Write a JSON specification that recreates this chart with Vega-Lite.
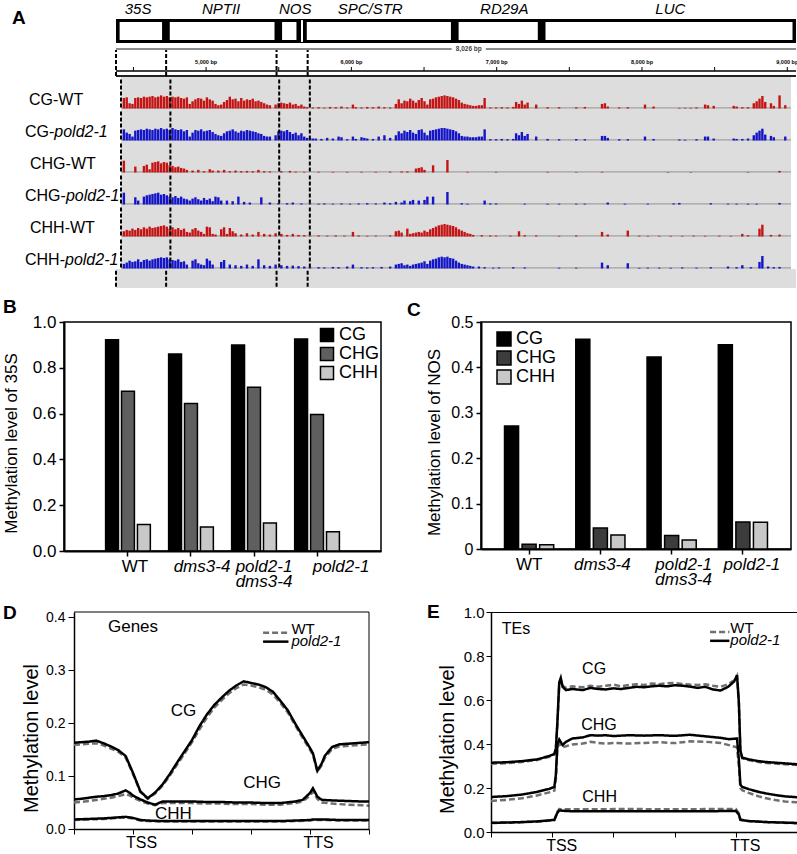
{
"$schema": "https://vega.github.io/schema/vega-lite/v6.json",
"padding": {"left": 0, "top": 2, "right": 0, "bottom": 0},
"background": "white",
"spacing": 0,
"columns": 1,
"align": "none",
"config": {
  "font": "Liberation Sans",
  "view": {"stroke": null},
  "axis": {"grid": false, "labelColor": "black", "titleColor": "black", "tickColor": "black", "domainColor": "black", "titleFontWeight": "normal", "labelFont": "Liberation Sans", "titleFont": "Liberation Sans"},
  "legend": {"labelColor": "black", "labelFont": "Liberation Sans"},
  "title": {"fontSize": 19, "fontWeight": "bold", "anchor": "start", "frame": "group", "color": "black", "baseline": "alphabetic", "font": "Liberation Sans"},
  "text": {"font": "Liberation Sans", "color": "black"}
},
"datasets": {
  "genes": [
    {"g":"35S","s":4405,"e":4697,"m":4532},
    {"g":"NPTII","s":4750,"e":5471,"m":5103},
    {"g":"NOS","s":5523,"e":5622,"m":5613},
    {"g":"SPC/STR","s":5693,"e":6685,"m":6129},
    {"g":"RD29A","s":6738,"e":7283,"m":7052},
    {"g":"LUC","s":7336,"e":9036,"m":8195}
  ],
  "dash": [{"d":4380},{"d":4725},{"d":5485},{"d":5699}],
  "rlab": [{"p":5000,"l":"5,000 bp"},{"p":6000,"l":"6,000 bp"},{"p":7000,"l":"7,000 bp"},{"p":8000,"l":"8,000 bp"},{"p":9000,"l":"9,000 bp"}],
  "rtick": [{"p":4500},{"p":5000},{"p":5500},{"p":6000},{"p":6500},{"p":7000},{"p":7500},{"p":8000},{"p":8500},{"p":9000}],
  "tr": [
{"t":"CGW","p":4400,"v":0.8},{"t":"CGW","p":4420,"v":0.85},{"t":"CGW","p":4440,"v":0.4},{"t":"CGW","p":4460,"v":0.35},{"t":"CGW","p":4480,"v":0.8},{"t":"CGW","p":4500,"v":0.85},{"t":"CGW","p":4520,"v":0.8},{"t":"CGW","p":4540,"v":0.9},{"t":"CGW","p":4560,"v":0.85},{"t":"CGW","p":4580,"v":0.9},{"t":"CGW","p":4600,"v":0.95},{"t":"CGW","p":4620,"v":0.85},{"t":"CGW","p":4640,"v":0.9},{"t":"CGW","p":4660,"v":1.0},{"t":"CGW","p":4680,"v":0.9},{"t":"CGW","p":4700,"v":0.95},{"t":"CGW","p":4720,"v":0.85},{"t":"CGW","p":4740,"v":0.9},{"t":"CGW","p":4760,"v":0.85},{"t":"CGW","p":4780,"v":0.9},{"t":"CGW","p":4800,"v":0.8},{"t":"CGW","p":4820,"v":0.75},{"t":"CGW","p":4840,"v":0.85},{"t":"CGW","p":4860,"v":0.35},{"t":"CGW","p":4880,"v":0.55},{"t":"CGW","p":4900,"v":0.7},{"t":"CGW","p":4920,"v":0.8},{"t":"CGW","p":4940,"v":0.75},{"t":"CGW","p":4960,"v":0.6},{"t":"CGW","p":4980,"v":0.85},{"t":"CGW","p":5000,"v":0.7},{"t":"CGW","p":5020,"v":0.6},{"t":"CGW","p":5040,"v":0.35},{"t":"CGW","p":5060,"v":0.25},{"t":"CGW","p":5080,"v":0.3},{"t":"CGW","p":5100,"v":0.5},{"t":"CGW","p":5120,"v":0.65},{"t":"CGW","p":5140,"v":0.9},{"t":"CGW","p":5160,"v":0.7},{"t":"CGW","p":5180,"v":0.75},{"t":"CGW","p":5200,"v":0.55},{"t":"CGW","p":5220,"v":0.8},{"t":"CGW","p":5240,"v":0.6},{"t":"CGW","p":5260,"v":0.7},{"t":"CGW","p":5280,"v":0.65},{"t":"CGW","p":5300,"v":0.75},{"t":"CGW","p":5320,"v":0.55},{"t":"CGW","p":5340,"v":0.6},{"t":"CGW","p":5360,"v":0.5},{"t":"CGW","p":5380,"v":0.4},{"t":"CGW","p":5400,"v":0.3},{"t":"CGW","p":5420,"v":0.25},{"t":"CGW","p":5460,"v":0.3},{"t":"CGW","p":5480,"v":0.4},{"t":"CGW","p":5500,"v":0.45},{"t":"CGW","p":5520,"v":0.4},{"t":"CGW","p":5540,"v":0.35},{"t":"CGW","p":5560,"v":0.45},{"t":"CGW","p":5580,"v":0.3},{"t":"CGW","p":5600,"v":0.35},{"t":"CGW","p":5620,"v":0.2},{"t":"CGW","p":5640,"v":0.3},{"t":"CGW","p":5660,"v":0.15},{"t":"CGW","p":5680,"v":0.1},{"t":"CGW","p":5720,"v":0.08},{"t":"CGW","p":5760,"v":0.1},{"t":"CGW","p":5800,"v":0.06},{"t":"CGW","p":5840,"v":0.12},{"t":"CGW","p":5880,"v":0.1},{"t":"CGW","p":5920,"v":0.15},{"t":"CGW","p":5960,"v":0.08},{"t":"CGW","p":6000,"v":0.3},{"t":"CGW","p":6020,"v":0.1},{"t":"CGW","p":6060,"v":0.08},{"t":"CGW","p":6100,"v":0.12},{"t":"CGW","p":6140,"v":0.1},{"t":"CGW","p":6180,"v":0.15},{"t":"CGW","p":6220,"v":0.1},{"t":"CGW","p":6260,"v":0.08},{"t":"CGW","p":6300,"v":0.35},{"t":"CGW","p":6320,"v":0.7},{"t":"CGW","p":6340,"v":0.4},{"t":"CGW","p":6360,"v":0.6},{"t":"CGW","p":6380,"v":0.55},{"t":"CGW","p":6400,"v":0.75},{"t":"CGW","p":6420,"v":0.6},{"t":"CGW","p":6440,"v":0.45},{"t":"CGW","p":6460,"v":0.65},{"t":"CGW","p":6480,"v":0.8},{"t":"CGW","p":6500,"v":0.55},{"t":"CGW","p":6520,"v":0.3},{"t":"CGW","p":6540,"v":0.7},{"t":"CGW","p":6560,"v":0.75},{"t":"CGW","p":6580,"v":0.85},{"t":"CGW","p":6600,"v":0.9},{"t":"CGW","p":6620,"v":0.95},{"t":"CGW","p":6640,"v":1.0},{"t":"CGW","p":6660,"v":0.95},{"t":"CGW","p":6680,"v":0.9},{"t":"CGW","p":6700,"v":0.85},{"t":"CGW","p":6720,"v":0.75},{"t":"CGW","p":6740,"v":0.65},{"t":"CGW","p":6760,"v":0.45},{"t":"CGW","p":6780,"v":0.35},{"t":"CGW","p":6800,"v":0.3},{"t":"CGW","p":6820,"v":0.25},{"t":"CGW","p":6840,"v":0.2},{"t":"CGW","p":6860,"v":0.2},{"t":"CGW","p":6880,"v":0.25},{"t":"CGW","p":6900,"v":0.25},{"t":"CGW","p":6920,"v":0.8},{"t":"CGW","p":6960,"v":0.08},{"t":"CGW","p":7000,"v":0.08},{"t":"CGW","p":7040,"v":0.1},{"t":"CGW","p":7080,"v":0.08},{"t":"CGW","p":7120,"v":0.12},{"t":"CGW","p":7140,"v":0.5},{"t":"CGW","p":7160,"v":0.35},{"t":"CGW","p":7180,"v":0.6},{"t":"CGW","p":7200,"v":0.3},{"t":"CGW","p":7220,"v":0.45},{"t":"CGW","p":7280,"v":0.3},{"t":"CGW","p":7360,"v":0.1},{"t":"CGW","p":7440,"v":0.1},{"t":"CGW","p":7560,"v":0.1},{"t":"CGW","p":7620,"v":0.12},{"t":"CGW","p":7740,"v":0.35},{"t":"CGW","p":7760,"v":0.4},{"t":"CGW","p":7780,"v":0.15},{"t":"CGW","p":7860,"v":0.08},{"t":"CGW","p":7920,"v":0.1},{"t":"CGW","p":8040,"v":0.3},{"t":"CGW","p":8100,"v":0.15},{"t":"CGW","p":8280,"v":0.05},{"t":"CGW","p":8320,"v":0.05},{"t":"CGW","p":8360,"v":0.05},{"t":"CGW","p":8400,"v":0.08},{"t":"CGW","p":8460,"v":0.3},{"t":"CGW","p":8480,"v":0.25},{"t":"CGW","p":8520,"v":0.2},{"t":"CGW","p":8660,"v":0.2},{"t":"CGW","p":8680,"v":0.15},{"t":"CGW","p":8720,"v":0.1},{"t":"CGW","p":8760,"v":0.1},{"t":"CGW","p":8800,"v":0.4},{"t":"CGW","p":8820,"v":0.55},{"t":"CGW","p":8840,"v":0.75},{"t":"CGW","p":8860,"v":0.95},{"t":"CGW","p":8880,"v":0.5},{"t":"CGW","p":8920,"v":0.4},{"t":"CGW","p":8940,"v":0.2},{"t":"CGW","p":8980,"v":1.0},{"t":"CGW","p":9020,"v":0.25},
{"t":"CGP","p":4400,"v":0.85},{"t":"CGP","p":4420,"v":0.6},{"t":"CGP","p":4440,"v":0.5},{"t":"CGP","p":4460,"v":0.3},{"t":"CGP","p":4480,"v":0.75},{"t":"CGP","p":4500,"v":0.8},{"t":"CGP","p":4520,"v":0.85},{"t":"CGP","p":4540,"v":0.8},{"t":"CGP","p":4560,"v":0.9},{"t":"CGP","p":4580,"v":0.85},{"t":"CGP","p":4600,"v":0.8},{"t":"CGP","p":4620,"v":0.9},{"t":"CGP","p":4640,"v":0.85},{"t":"CGP","p":4660,"v":0.95},{"t":"CGP","p":4680,"v":0.85},{"t":"CGP","p":4700,"v":0.9},{"t":"CGP","p":4720,"v":0.8},{"t":"CGP","p":4740,"v":0.95},{"t":"CGP","p":4760,"v":0.85},{"t":"CGP","p":4780,"v":0.8},{"t":"CGP","p":4800,"v":0.85},{"t":"CGP","p":4820,"v":0.7},{"t":"CGP","p":4840,"v":0.8},{"t":"CGP","p":4860,"v":0.3},{"t":"CGP","p":4880,"v":0.6},{"t":"CGP","p":4900,"v":0.8},{"t":"CGP","p":4920,"v":0.75},{"t":"CGP","p":4940,"v":0.85},{"t":"CGP","p":4960,"v":0.7},{"t":"CGP","p":4980,"v":0.75},{"t":"CGP","p":5000,"v":0.8},{"t":"CGP","p":5020,"v":0.65},{"t":"CGP","p":5040,"v":0.5},{"t":"CGP","p":5060,"v":0.4},{"t":"CGP","p":5080,"v":0.35},{"t":"CGP","p":5100,"v":0.55},{"t":"CGP","p":5120,"v":0.7},{"t":"CGP","p":5140,"v":0.75},{"t":"CGP","p":5160,"v":0.85},{"t":"CGP","p":5180,"v":0.7},{"t":"CGP","p":5200,"v":0.6},{"t":"CGP","p":5220,"v":0.75},{"t":"CGP","p":5240,"v":0.7},{"t":"CGP","p":5260,"v":0.8},{"t":"CGP","p":5280,"v":0.75},{"t":"CGP","p":5300,"v":0.7},{"t":"CGP","p":5320,"v":0.65},{"t":"CGP","p":5340,"v":0.55},{"t":"CGP","p":5360,"v":0.5},{"t":"CGP","p":5380,"v":0.35},{"t":"CGP","p":5400,"v":0.3},{"t":"CGP","p":5420,"v":0.3},{"t":"CGP","p":5460,"v":0.4},{"t":"CGP","p":5480,"v":0.7},{"t":"CGP","p":5500,"v":0.75},{"t":"CGP","p":5520,"v":0.7},{"t":"CGP","p":5540,"v":0.8},{"t":"CGP","p":5560,"v":0.65},{"t":"CGP","p":5580,"v":0.5},{"t":"CGP","p":5600,"v":0.6},{"t":"CGP","p":5620,"v":0.4},{"t":"CGP","p":5640,"v":0.55},{"t":"CGP","p":5660,"v":0.3},{"t":"CGP","p":5680,"v":0.2},{"t":"CGP","p":5700,"v":0.2},{"t":"CGP","p":5720,"v":0.15},{"t":"CGP","p":5740,"v":0.15},{"t":"CGP","p":5780,"v":0.12},{"t":"CGP","p":5820,"v":0.2},{"t":"CGP","p":5860,"v":0.15},{"t":"CGP","p":5900,"v":0.3},{"t":"CGP","p":5920,"v":0.25},{"t":"CGP","p":5960,"v":0.1},{"t":"CGP","p":6000,"v":0.3},{"t":"CGP","p":6020,"v":0.12},{"t":"CGP","p":6060,"v":0.25},{"t":"CGP","p":6080,"v":0.2},{"t":"CGP","p":6100,"v":0.15},{"t":"CGP","p":6140,"v":0.12},{"t":"CGP","p":6180,"v":0.3},{"t":"CGP","p":6220,"v":0.4},{"t":"CGP","p":6260,"v":0.2},{"t":"CGP","p":6300,"v":0.4},{"t":"CGP","p":6320,"v":0.7},{"t":"CGP","p":6340,"v":0.55},{"t":"CGP","p":6360,"v":0.75},{"t":"CGP","p":6380,"v":0.65},{"t":"CGP","p":6400,"v":0.8},{"t":"CGP","p":6420,"v":0.6},{"t":"CGP","p":6440,"v":0.5},{"t":"CGP","p":6460,"v":0.8},{"t":"CGP","p":6480,"v":0.85},{"t":"CGP","p":6500,"v":0.6},{"t":"CGP","p":6520,"v":0.4},{"t":"CGP","p":6540,"v":0.75},{"t":"CGP","p":6560,"v":0.8},{"t":"CGP","p":6580,"v":0.85},{"t":"CGP","p":6600,"v":0.9},{"t":"CGP","p":6620,"v":0.95},{"t":"CGP","p":6640,"v":0.95},{"t":"CGP","p":6660,"v":0.9},{"t":"CGP","p":6680,"v":0.85},{"t":"CGP","p":6700,"v":0.8},{"t":"CGP","p":6720,"v":0.7},{"t":"CGP","p":6740,"v":0.55},{"t":"CGP","p":6760,"v":0.35},{"t":"CGP","p":6780,"v":0.3},{"t":"CGP","p":6800,"v":0.3},{"t":"CGP","p":6820,"v":0.25},{"t":"CGP","p":6840,"v":0.25},{"t":"CGP","p":6860,"v":0.25},{"t":"CGP","p":6880,"v":0.3},{"t":"CGP","p":6900,"v":0.3},{"t":"CGP","p":6920,"v":0.85},{"t":"CGP","p":6960,"v":0.1},{"t":"CGP","p":7000,"v":0.1},{"t":"CGP","p":7040,"v":0.12},{"t":"CGP","p":7080,"v":0.1},{"t":"CGP","p":7120,"v":0.12},{"t":"CGP","p":7140,"v":0.55},{"t":"CGP","p":7160,"v":0.4},{"t":"CGP","p":7180,"v":0.65},{"t":"CGP","p":7200,"v":0.35},{"t":"CGP","p":7220,"v":0.5},{"t":"CGP","p":7280,"v":0.3},{"t":"CGP","p":7360,"v":0.12},{"t":"CGP","p":7440,"v":0.1},{"t":"CGP","p":7560,"v":0.12},{"t":"CGP","p":7620,"v":0.1},{"t":"CGP","p":7740,"v":0.35},{"t":"CGP","p":7760,"v":0.35},{"t":"CGP","p":7780,"v":0.2},{"t":"CGP","p":7860,"v":0.1},{"t":"CGP","p":7920,"v":0.1},{"t":"CGP","p":8040,"v":0.3},{"t":"CGP","p":8100,"v":0.12},{"t":"CGP","p":8280,"v":0.08},{"t":"CGP","p":8320,"v":0.06},{"t":"CGP","p":8400,"v":0.1},{"t":"CGP","p":8460,"v":0.3},{"t":"CGP","p":8480,"v":0.3},{"t":"CGP","p":8520,"v":0.15},{"t":"CGP","p":8660,"v":0.15},{"t":"CGP","p":8680,"v":0.12},{"t":"CGP","p":8720,"v":0.12},{"t":"CGP","p":8760,"v":0.15},{"t":"CGP","p":8800,"v":0.4},{"t":"CGP","p":8820,"v":0.6},{"t":"CGP","p":8840,"v":0.75},{"t":"CGP","p":8860,"v":0.9},{"t":"CGP","p":8880,"v":0.45},{"t":"CGP","p":8920,"v":0.35},{"t":"CGP","p":8940,"v":0.25},{"t":"CGP","p":9020,"v":0.3},
{"t":"CHGW","p":4400,"v":0.9},{"t":"CHGW","p":4480,"v":0.45},{"t":"CHGW","p":4540,"v":0.5},{"t":"CHGW","p":4560,"v":0.6},{"t":"CHGW","p":4580,"v":0.25},{"t":"CHGW","p":4600,"v":0.75},{"t":"CHGW","p":4620,"v":0.8},{"t":"CHGW","p":4640,"v":0.85},{"t":"CHGW","p":4660,"v":0.7},{"t":"CHGW","p":4680,"v":0.8},{"t":"CHGW","p":4700,"v":0.75},{"t":"CHGW","p":4720,"v":0.55},{"t":"CHGW","p":4740,"v":0.5},{"t":"CHGW","p":4760,"v":0.4},{"t":"CHGW","p":4780,"v":0.45},{"t":"CHGW","p":4800,"v":0.35},{"t":"CHGW","p":4820,"v":0.3},{"t":"CHGW","p":4840,"v":0.2},{"t":"CHGW","p":4880,"v":0.15},{"t":"CHGW","p":4920,"v":0.2},{"t":"CHGW","p":4960,"v":0.1},{"t":"CHGW","p":5000,"v":0.25},{"t":"CHGW","p":5020,"v":0.15},{"t":"CHGW","p":5060,"v":0.15},{"t":"CHGW","p":5100,"v":0.2},{"t":"CHGW","p":5140,"v":0.1},{"t":"CHGW","p":5180,"v":0.15},{"t":"CHGW","p":5220,"v":0.1},{"t":"CHGW","p":5260,"v":0.12},{"t":"CHGW","p":5300,"v":0.1},{"t":"CHGW","p":5340,"v":0.2},{"t":"CHGW","p":5380,"v":0.1},{"t":"CHGW","p":5420,"v":0.08},{"t":"CHGW","p":5500,"v":0.1},{"t":"CHGW","p":5560,"v":0.12},{"t":"CHGW","p":5600,"v":0.06},{"t":"CHGW","p":5660,"v":0.05},{"t":"CHGW","p":5760,"v":0.05},{"t":"CHGW","p":5860,"v":0.05},{"t":"CHGW","p":5960,"v":0.05},{"t":"CHGW","p":6060,"v":0.05},{"t":"CHGW","p":6160,"v":0.05},{"t":"CHGW","p":6260,"v":0.06},{"t":"CHGW","p":6340,"v":0.08},{"t":"CHGW","p":6380,"v":0.08},{"t":"CHGW","p":6440,"v":0.3},{"t":"CHGW","p":6460,"v":0.35},{"t":"CHGW","p":6480,"v":0.4},{"t":"CHGW","p":6500,"v":0.2},{"t":"CHGW","p":6560,"v":0.55},{"t":"CHGW","p":6660,"v":0.95},{"t":"CHGW","p":6800,"v":0.05},{"t":"CHGW","p":7000,"v":0.05},{"t":"CHGW","p":7360,"v":0.05},{"t":"CHGW","p":7560,"v":0.04},{"t":"CHGW","p":7740,"v":0.05},{"t":"CHGW","p":8200,"v":0.04},{"t":"CHGW","p":8360,"v":0.04},{"t":"CHGW","p":8760,"v":0.04},{"t":"CHGW","p":8980,"v":0.12},
{"t":"CHGP","p":4400,"v":0.9},{"t":"CHGP","p":4480,"v":0.55},{"t":"CHGP","p":4500,"v":0.3},{"t":"CHGP","p":4540,"v":0.6},{"t":"CHGP","p":4560,"v":0.7},{"t":"CHGP","p":4580,"v":0.75},{"t":"CHGP","p":4600,"v":0.8},{"t":"CHGP","p":4620,"v":0.85},{"t":"CHGP","p":4640,"v":0.9},{"t":"CHGP","p":4660,"v":0.75},{"t":"CHGP","p":4680,"v":0.8},{"t":"CHGP","p":4700,"v":0.7},{"t":"CHGP","p":4720,"v":0.6},{"t":"CHGP","p":4740,"v":0.55},{"t":"CHGP","p":4760,"v":0.65},{"t":"CHGP","p":4780,"v":0.5},{"t":"CHGP","p":4800,"v":0.6},{"t":"CHGP","p":4820,"v":0.45},{"t":"CHGP","p":4840,"v":0.4},{"t":"CHGP","p":4860,"v":0.3},{"t":"CHGP","p":4880,"v":0.45},{"t":"CHGP","p":4900,"v":0.55},{"t":"CHGP","p":4920,"v":0.4},{"t":"CHGP","p":4940,"v":0.3},{"t":"CHGP","p":4960,"v":0.5},{"t":"CHGP","p":4980,"v":0.35},{"t":"CHGP","p":5000,"v":0.45},{"t":"CHGP","p":5020,"v":0.25},{"t":"CHGP","p":5040,"v":0.6},{"t":"CHGP","p":5060,"v":0.55},{"t":"CHGP","p":5080,"v":0.3},{"t":"CHGP","p":5120,"v":0.3},{"t":"CHGP","p":5160,"v":0.25},{"t":"CHGP","p":5200,"v":0.6},{"t":"CHGP","p":5240,"v":0.2},{"t":"CHGP","p":5280,"v":0.15},{"t":"CHGP","p":5360,"v":0.55},{"t":"CHGP","p":5420,"v":0.15},{"t":"CHGP","p":5480,"v":0.1},{"t":"CHGP","p":5540,"v":0.1},{"t":"CHGP","p":5580,"v":0.15},{"t":"CHGP","p":5640,"v":0.08},{"t":"CHGP","p":5700,"v":0.08},{"t":"CHGP","p":5760,"v":0.06},{"t":"CHGP","p":5800,"v":0.08},{"t":"CHGP","p":5860,"v":0.06},{"t":"CHGP","p":5920,"v":0.08},{"t":"CHGP","p":5980,"v":0.06},{"t":"CHGP","p":6040,"v":0.08},{"t":"CHGP","p":6100,"v":0.1},{"t":"CHGP","p":6160,"v":0.08},{"t":"CHGP","p":6220,"v":0.15},{"t":"CHGP","p":6260,"v":0.1},{"t":"CHGP","p":6300,"v":0.2},{"t":"CHGP","p":6340,"v":0.15},{"t":"CHGP","p":6360,"v":0.3},{"t":"CHGP","p":6400,"v":0.25},{"t":"CHGP","p":6420,"v":0.35},{"t":"CHGP","p":6460,"v":0.3},{"t":"CHGP","p":6500,"v":0.35},{"t":"CHGP","p":6520,"v":0.6},{"t":"CHGP","p":6560,"v":0.6},{"t":"CHGP","p":6660,"v":0.95},{"t":"CHGP","p":6760,"v":0.1},{"t":"CHGP","p":6800,"v":0.06},{"t":"CHGP","p":6920,"v":0.3},{"t":"CHGP","p":6960,"v":0.08},{"t":"CHGP","p":7000,"v":0.08},{"t":"CHGP","p":7200,"v":0.06},{"t":"CHGP","p":7360,"v":0.06},{"t":"CHGP","p":7440,"v":0.06},{"t":"CHGP","p":7560,"v":0.06},{"t":"CHGP","p":7620,"v":0.06},{"t":"CHGP","p":7780,"v":0.15},{"t":"CHGP","p":7900,"v":0.06},{"t":"CHGP","p":8060,"v":0.06},{"t":"CHGP","p":8240,"v":0.08},{"t":"CHGP","p":8280,"v":0.12},{"t":"CHGP","p":8500,"v":0.1},{"t":"CHGP","p":8620,"v":0.06},{"t":"CHGP","p":8680,"v":0.06},{"t":"CHGP","p":8760,"v":0.06},{"t":"CHGP","p":8820,"v":0.06},{"t":"CHGP","p":8980,"v":0.12},
{"t":"CHHW","p":4400,"v":0.4},{"t":"CHHW","p":4420,"v":0.5},{"t":"CHHW","p":4440,"v":0.45},{"t":"CHHW","p":4460,"v":0.6},{"t":"CHHW","p":4480,"v":0.5},{"t":"CHHW","p":4500,"v":0.65},{"t":"CHHW","p":4520,"v":0.55},{"t":"CHHW","p":4540,"v":0.7},{"t":"CHHW","p":4560,"v":0.6},{"t":"CHHW","p":4580,"v":0.75},{"t":"CHHW","p":4600,"v":0.65},{"t":"CHHW","p":4620,"v":0.7},{"t":"CHHW","p":4640,"v":0.75},{"t":"CHHW","p":4660,"v":0.8},{"t":"CHHW","p":4680,"v":0.85},{"t":"CHHW","p":4700,"v":0.75},{"t":"CHHW","p":4720,"v":0.6},{"t":"CHHW","p":4740,"v":0.7},{"t":"CHHW","p":4760,"v":0.55},{"t":"CHHW","p":4780,"v":0.65},{"t":"CHHW","p":4800,"v":0.5},{"t":"CHHW","p":4820,"v":0.6},{"t":"CHHW","p":4840,"v":0.35},{"t":"CHHW","p":4860,"v":0.3},{"t":"CHHW","p":4880,"v":0.55},{"t":"CHHW","p":4900,"v":0.65},{"t":"CHHW","p":4920,"v":0.45},{"t":"CHHW","p":4940,"v":0.35},{"t":"CHHW","p":4960,"v":0.2},{"t":"CHHW","p":4980,"v":0.75},{"t":"CHHW","p":5000,"v":0.7},{"t":"CHHW","p":5020,"v":0.2},{"t":"CHHW","p":5040,"v":0.15},{"t":"CHHW","p":5080,"v":0.55},{"t":"CHHW","p":5100,"v":0.7},{"t":"CHHW","p":5120,"v":0.2},{"t":"CHHW","p":5140,"v":0.65},{"t":"CHHW","p":5160,"v":0.4},{"t":"CHHW","p":5180,"v":0.25},{"t":"CHHW","p":5220,"v":0.15},{"t":"CHHW","p":5260,"v":0.25},{"t":"CHHW","p":5300,"v":0.15},{"t":"CHHW","p":5340,"v":0.35},{"t":"CHHW","p":5380,"v":0.2},{"t":"CHHW","p":5420,"v":0.15},{"t":"CHHW","p":5460,"v":0.25},{"t":"CHHW","p":5500,"v":0.2},{"t":"CHHW","p":5540,"v":0.12},{"t":"CHHW","p":5580,"v":0.2},{"t":"CHHW","p":5620,"v":0.12},{"t":"CHHW","p":5660,"v":0.1},{"t":"CHHW","p":5700,"v":0.06},{"t":"CHHW","p":5760,"v":0.08},{"t":"CHHW","p":5820,"v":0.06},{"t":"CHHW","p":5880,"v":0.08},{"t":"CHHW","p":5940,"v":0.06},{"t":"CHHW","p":6000,"v":0.35},{"t":"CHHW","p":6040,"v":0.08},{"t":"CHHW","p":6100,"v":0.05},{"t":"CHHW","p":6160,"v":0.06},{"t":"CHHW","p":6260,"v":0.08},{"t":"CHHW","p":6300,"v":0.4},{"t":"CHHW","p":6320,"v":0.45},{"t":"CHHW","p":6340,"v":0.3},{"t":"CHHW","p":6380,"v":0.6},{"t":"CHHW","p":6400,"v":0.2},{"t":"CHHW","p":6420,"v":0.25},{"t":"CHHW","p":6440,"v":0.3},{"t":"CHHW","p":6460,"v":0.35},{"t":"CHHW","p":6480,"v":0.3},{"t":"CHHW","p":6500,"v":0.45},{"t":"CHHW","p":6520,"v":0.35},{"t":"CHHW","p":6540,"v":0.55},{"t":"CHHW","p":6560,"v":0.65},{"t":"CHHW","p":6580,"v":0.75},{"t":"CHHW","p":6600,"v":0.85},{"t":"CHHW","p":6620,"v":0.9},{"t":"CHHW","p":6640,"v":0.95},{"t":"CHHW","p":6660,"v":0.9},{"t":"CHHW","p":6680,"v":0.85},{"t":"CHHW","p":6700,"v":0.8},{"t":"CHHW","p":6720,"v":0.7},{"t":"CHHW","p":6740,"v":0.55},{"t":"CHHW","p":6760,"v":0.45},{"t":"CHHW","p":6780,"v":0.35},{"t":"CHHW","p":6800,"v":0.25},{"t":"CHHW","p":6820,"v":0.2},{"t":"CHHW","p":6840,"v":0.12},{"t":"CHHW","p":6900,"v":0.1},{"t":"CHHW","p":6960,"v":0.08},{"t":"CHHW","p":7000,"v":0.06},{"t":"CHHW","p":7100,"v":0.06},{"t":"CHHW","p":7160,"v":0.4},{"t":"CHHW","p":7200,"v":0.1},{"t":"CHHW","p":7280,"v":0.08},{"t":"CHHW","p":7440,"v":0.05},{"t":"CHHW","p":7560,"v":0.08},{"t":"CHHW","p":7740,"v":0.35},{"t":"CHHW","p":7780,"v":0.15},{"t":"CHHW","p":7920,"v":0.45},{"t":"CHHW","p":8000,"v":0.06},{"t":"CHHW","p":8060,"v":0.05},{"t":"CHHW","p":8140,"v":0.05},{"t":"CHHW","p":8220,"v":0.05},{"t":"CHHW","p":8300,"v":0.05},{"t":"CHHW","p":8380,"v":0.06},{"t":"CHHW","p":8460,"v":0.05},{"t":"CHHW","p":8560,"v":0.06},{"t":"CHHW","p":8640,"v":0.05},{"t":"CHHW","p":8720,"v":0.2},{"t":"CHHW","p":8760,"v":0.1},{"t":"CHHW","p":8840,"v":0.6},{"t":"CHHW","p":8860,"v":0.9},{"t":"CHHW","p":8920,"v":0.12},{"t":"CHHW","p":8980,"v":0.15},
{"t":"CHHP","p":4400,"v":0.35},{"t":"CHHP","p":4420,"v":0.45},{"t":"CHHP","p":4440,"v":0.6},{"t":"CHHP","p":4460,"v":0.5},{"t":"CHHP","p":4480,"v":0.55},{"t":"CHHP","p":4500,"v":0.7},{"t":"CHHP","p":4520,"v":0.5},{"t":"CHHP","p":4540,"v":0.65},{"t":"CHHP","p":4560,"v":0.7},{"t":"CHHP","p":4580,"v":0.6},{"t":"CHHP","p":4600,"v":0.7},{"t":"CHHP","p":4620,"v":0.75},{"t":"CHHP","p":4640,"v":0.8},{"t":"CHHP","p":4660,"v":0.85},{"t":"CHHP","p":4680,"v":0.8},{"t":"CHHP","p":4700,"v":0.85},{"t":"CHHP","p":4720,"v":0.7},{"t":"CHHP","p":4740,"v":0.65},{"t":"CHHP","p":4760,"v":0.6},{"t":"CHHP","p":4780,"v":0.7},{"t":"CHHP","p":4800,"v":0.5},{"t":"CHHP","p":4820,"v":0.55},{"t":"CHHP","p":4840,"v":0.3},{"t":"CHHP","p":4880,"v":0.6},{"t":"CHHP","p":4900,"v":0.7},{"t":"CHHP","p":4920,"v":0.4},{"t":"CHHP","p":4940,"v":0.3},{"t":"CHHP","p":4960,"v":0.25},{"t":"CHHP","p":4980,"v":0.75},{"t":"CHHP","p":5000,"v":0.6},{"t":"CHHP","p":5020,"v":0.3},{"t":"CHHP","p":5080,"v":0.5},{"t":"CHHP","p":5100,"v":0.65},{"t":"CHHP","p":5140,"v":0.3},{"t":"CHHP","p":5180,"v":0.25},{"t":"CHHP","p":5220,"v":0.2},{"t":"CHHP","p":5260,"v":0.3},{"t":"CHHP","p":5300,"v":0.2},{"t":"CHHP","p":5340,"v":0.7},{"t":"CHHP","p":5380,"v":0.25},{"t":"CHHP","p":5420,"v":0.2},{"t":"CHHP","p":5460,"v":0.3},{"t":"CHHP","p":5500,"v":0.25},{"t":"CHHP","p":5540,"v":0.2},{"t":"CHHP","p":5580,"v":0.22},{"t":"CHHP","p":5620,"v":0.18},{"t":"CHHP","p":5660,"v":0.15},{"t":"CHHP","p":5700,"v":0.1},{"t":"CHHP","p":5760,"v":0.1},{"t":"CHHP","p":5800,"v":0.08},{"t":"CHHP","p":5860,"v":0.12},{"t":"CHHP","p":5900,"v":0.1},{"t":"CHHP","p":5960,"v":0.15},{"t":"CHHP","p":6000,"v":0.3},{"t":"CHHP","p":6060,"v":0.1},{"t":"CHHP","p":6100,"v":0.08},{"t":"CHHP","p":6140,"v":0.1},{"t":"CHHP","p":6200,"v":0.12},{"t":"CHHP","p":6260,"v":0.15},{"t":"CHHP","p":6300,"v":0.3},{"t":"CHHP","p":6320,"v":0.35},{"t":"CHHP","p":6340,"v":0.4},{"t":"CHHP","p":6360,"v":0.25},{"t":"CHHP","p":6380,"v":0.3},{"t":"CHHP","p":6400,"v":0.2},{"t":"CHHP","p":6420,"v":0.3},{"t":"CHHP","p":6440,"v":0.35},{"t":"CHHP","p":6460,"v":0.4},{"t":"CHHP","p":6480,"v":0.45},{"t":"CHHP","p":6500,"v":0.55},{"t":"CHHP","p":6520,"v":0.35},{"t":"CHHP","p":6540,"v":0.6},{"t":"CHHP","p":6560,"v":0.7},{"t":"CHHP","p":6580,"v":0.75},{"t":"CHHP","p":6600,"v":0.85},{"t":"CHHP","p":6620,"v":0.9},{"t":"CHHP","p":6640,"v":0.85},{"t":"CHHP","p":6660,"v":0.9},{"t":"CHHP","p":6680,"v":0.8},{"t":"CHHP","p":6700,"v":0.75},{"t":"CHHP","p":6720,"v":0.6},{"t":"CHHP","p":6740,"v":0.45},{"t":"CHHP","p":6760,"v":0.35},{"t":"CHHP","p":6780,"v":0.3},{"t":"CHHP","p":6800,"v":0.25},{"t":"CHHP","p":6820,"v":0.2},{"t":"CHHP","p":6840,"v":0.15},{"t":"CHHP","p":6880,"v":0.15},{"t":"CHHP","p":6920,"v":0.1},{"t":"CHHP","p":6980,"v":0.06},{"t":"CHHP","p":7020,"v":0.08},{"t":"CHHP","p":7120,"v":0.1},{"t":"CHHP","p":7200,"v":0.08},{"t":"CHHP","p":7440,"v":0.06},{"t":"CHHP","p":7560,"v":0.06},{"t":"CHHP","p":7740,"v":0.45},{"t":"CHHP","p":7780,"v":0.25},{"t":"CHHP","p":7920,"v":0.4},{"t":"CHHP","p":8000,"v":0.05},{"t":"CHHP","p":8060,"v":0.06},{"t":"CHHP","p":8140,"v":0.06},{"t":"CHHP","p":8220,"v":0.05},{"t":"CHHP","p":8300,"v":0.08},{"t":"CHHP","p":8400,"v":0.06},{"t":"CHHP","p":8500,"v":0.1},{"t":"CHHP","p":8620,"v":0.15},{"t":"CHHP","p":8680,"v":0.1},{"t":"CHHP","p":8720,"v":0.25},{"t":"CHHP","p":8780,"v":0.1},{"t":"CHHP","p":8840,"v":0.5},{"t":"CHHP","p":8860,"v":0.95},{"t":"CHHP","p":8900,"v":0.15},{"t":"CHHP","p":8940,"v":0.1},{"t":"CHHP","p":8980,"v":0.12}
  ],
  "b35s": [
    {"grp":"WT","ctx":"CG","val":0.923},{"grp":"WT","ctx":"CHG","val":0.698},{"grp":"WT","ctx":"CHH","val":0.116},
    {"grp":"dms3-4","ctx":"CG","val":0.86},{"grp":"dms3-4","ctx":"CHG","val":0.644},{"grp":"dms3-4","ctx":"CHH","val":0.105},
    {"grp":"pold2-1 dms3-4","ctx":"CG","val":0.9},{"grp":"pold2-1 dms3-4","ctx":"CHG","val":0.715},{"grp":"pold2-1 dms3-4","ctx":"CHH","val":0.122},
    {"grp":"pold2-1","ctx":"CG","val":0.926},{"grp":"pold2-1","ctx":"CHG","val":0.596},{"grp":"pold2-1","ctx":"CHH","val":0.084}
  ],
  "bnos": [
    {"grp":"WT","ctx":"CG","val":0.271},{"grp":"WT","ctx":"CHG","val":0.0103},{"grp":"WT","ctx":"CHH","val":0.0096},
    {"grp":"dms3-4","ctx":"CG","val":0.462},{"grp":"dms3-4","ctx":"CHG","val":0.046},{"grp":"dms3-4","ctx":"CHH","val":0.031},
    {"grp":"pold2-1 dms3-4","ctx":"CG","val":0.423},{"grp":"pold2-1 dms3-4","ctx":"CHG","val":0.03},{"grp":"pold2-1 dms3-4","ctx":"CHH","val":0.02},
    {"grp":"pold2-1","ctx":"CG","val":0.45},{"grp":"pold2-1","ctx":"CHG","val":0.0596},{"grp":"pold2-1","ctx":"CHH","val":0.0588}
  ],
  "dgen": [
{"c":"CG","g":"WT","u":0,"m":0.159},{"c":"CG","g":"WT","u":0.25,"m":0.16},{"c":"CG","g":"WT","u":0.5,"m":0.161},{"c":"CG","g":"WT","u":0.75,"m":0.162},{"c":"CG","g":"WT","u":1,"m":0.158},{"c":"CG","g":"WT","u":1.25,"m":0.152},{"c":"CG","g":"WT","u":1.5,"m":0.146},{"c":"CG","g":"WT","u":1.75,"m":0.135},{"c":"CG","g":"WT","u":2,"m":0.104},{"c":"CG","g":"WT","u":2.25,"m":0.07},{"c":"CG","g":"WT","u":2.5,"m":0.057},{"c":"CG","g":"WT","u":2.75,"m":0.067},{"c":"CG","g":"WT","u":3,"m":0.082},{"c":"CG","g":"WT","u":3.25,"m":0.101},{"c":"CG","g":"WT","u":3.5,"m":0.122},{"c":"CG","g":"WT","u":3.75,"m":0.143},{"c":"CG","g":"WT","u":4,"m":0.164},{"c":"CG","g":"WT","u":4.25,"m":0.188},{"c":"CG","g":"WT","u":4.5,"m":0.21},{"c":"CG","g":"WT","u":4.75,"m":0.229},{"c":"CG","g":"WT","u":5,"m":0.243},{"c":"CG","g":"WT","u":5.25,"m":0.256},{"c":"CG","g":"WT","u":5.5,"m":0.266},{"c":"CG","g":"WT","u":5.75,"m":0.273},{"c":"CG","g":"WT","u":6,"m":0.271},{"c":"CG","g":"WT","u":6.25,"m":0.268},{"c":"CG","g":"WT","u":6.5,"m":0.263},{"c":"CG","g":"WT","u":6.75,"m":0.254},{"c":"CG","g":"WT","u":7,"m":0.238},{"c":"CG","g":"WT","u":7.25,"m":0.22},{"c":"CG","g":"WT","u":7.5,"m":0.196},{"c":"CG","g":"WT","u":7.75,"m":0.172},{"c":"CG","g":"WT","u":8,"m":0.15},{"c":"CG","g":"WT","u":8.1,"m":0.14},{"c":"CG","g":"WT","u":8.25,"m":0.108},{"c":"CG","g":"WT","u":8.4,"m":0.121},{"c":"CG","g":"WT","u":8.5,"m":0.134},{"c":"CG","g":"WT","u":8.75,"m":0.151},{"c":"CG","g":"WT","u":9,"m":0.156},{"c":"CG","g":"WT","u":9.25,"m":0.157},{"c":"CG","g":"WT","u":9.5,"m":0.158},{"c":"CG","g":"WT","u":9.75,"m":0.159},{"c":"CG","g":"WT","u":10,"m":0.16},
{"c":"CHG","g":"WT","u":0,"m":0.05},{"c":"CHG","g":"WT","u":0.25,"m":0.051},{"c":"CHG","g":"WT","u":0.5,"m":0.053},{"c":"CHG","g":"WT","u":0.75,"m":0.055},{"c":"CHG","g":"WT","u":1,"m":0.057},{"c":"CHG","g":"WT","u":1.25,"m":0.059},{"c":"CHG","g":"WT","u":1.5,"m":0.062},{"c":"CHG","g":"WT","u":1.75,"m":0.066},{"c":"CHG","g":"WT","u":1.9,"m":0.063},{"c":"CHG","g":"WT","u":2,"m":0.059},{"c":"CHG","g":"WT","u":2.25,"m":0.053},{"c":"CHG","g":"WT","u":2.5,"m":0.048},{"c":"CHG","g":"WT","u":2.75,"m":0.045},{"c":"CHG","g":"WT","u":3,"m":0.049},{"c":"CHG","g":"WT","u":3.5,"m":0.049},{"c":"CHG","g":"WT","u":4,"m":0.049},{"c":"CHG","g":"WT","u":4.5,"m":0.048},{"c":"CHG","g":"WT","u":5,"m":0.048},{"c":"CHG","g":"WT","u":5.5,"m":0.047},{"c":"CHG","g":"WT","u":6,"m":0.047},{"c":"CHG","g":"WT","u":6.5,"m":0.046},{"c":"CHG","g":"WT","u":7,"m":0.046},{"c":"CHG","g":"WT","u":7.5,"m":0.049},{"c":"CHG","g":"WT","u":7.75,"m":0.052},{"c":"CHG","g":"WT","u":8,"m":0.063},{"c":"CHG","g":"WT","u":8.1,"m":0.071},{"c":"CHG","g":"WT","u":8.25,"m":0.057},{"c":"CHG","g":"WT","u":8.4,"m":0.05},{"c":"CHG","g":"WT","u":8.75,"m":0.048},{"c":"CHG","g":"WT","u":9.25,"m":0.046},{"c":"CHG","g":"WT","u":9.75,"m":0.045},{"c":"CHG","g":"WT","u":10,"m":0.044},
{"c":"CHH","g":"WT","u":0,"m":0.017},{"c":"CHH","g":"WT","u":0.5,"m":0.018},{"c":"CHH","g":"WT","u":1,"m":0.019},{"c":"CHH","g":"WT","u":1.5,"m":0.021},{"c":"CHH","g":"WT","u":1.75,"m":0.022},{"c":"CHH","g":"WT","u":2,"m":0.02},{"c":"CHH","g":"WT","u":2.25,"m":0.016},{"c":"CHH","g":"WT","u":2.5,"m":0.015},{"c":"CHH","g":"WT","u":3,"m":0.014},{"c":"CHH","g":"WT","u":4,"m":0.014},{"c":"CHH","g":"WT","u":5,"m":0.014},{"c":"CHH","g":"WT","u":6,"m":0.014},{"c":"CHH","g":"WT","u":7,"m":0.014},{"c":"CHH","g":"WT","u":7.5,"m":0.015},{"c":"CHH","g":"WT","u":8,"m":0.016},{"c":"CHH","g":"WT","u":8.1,"m":0.017},{"c":"CHH","g":"WT","u":8.5,"m":0.017},{"c":"CHH","g":"WT","u":9,"m":0.016},{"c":"CHH","g":"WT","u":10,"m":0.016},
{"c":"CG","g":"pold2-1","u":0,"m":0.163},{"c":"CG","g":"pold2-1","u":0.25,"m":0.164},{"c":"CG","g":"pold2-1","u":0.5,"m":0.165},{"c":"CG","g":"pold2-1","u":0.75,"m":0.167},{"c":"CG","g":"pold2-1","u":1,"m":0.162},{"c":"CG","g":"pold2-1","u":1.25,"m":0.156},{"c":"CG","g":"pold2-1","u":1.5,"m":0.149},{"c":"CG","g":"pold2-1","u":1.75,"m":0.138},{"c":"CG","g":"pold2-1","u":2,"m":0.106},{"c":"CG","g":"pold2-1","u":2.25,"m":0.071},{"c":"CG","g":"pold2-1","u":2.5,"m":0.058},{"c":"CG","g":"pold2-1","u":2.75,"m":0.069},{"c":"CG","g":"pold2-1","u":3,"m":0.084},{"c":"CG","g":"pold2-1","u":3.25,"m":0.104},{"c":"CG","g":"pold2-1","u":3.5,"m":0.126},{"c":"CG","g":"pold2-1","u":3.75,"m":0.147},{"c":"CG","g":"pold2-1","u":4,"m":0.168},{"c":"CG","g":"pold2-1","u":4.25,"m":0.194},{"c":"CG","g":"pold2-1","u":4.5,"m":0.216},{"c":"CG","g":"pold2-1","u":4.75,"m":0.234},{"c":"CG","g":"pold2-1","u":5,"m":0.248},{"c":"CG","g":"pold2-1","u":5.25,"m":0.261},{"c":"CG","g":"pold2-1","u":5.5,"m":0.271},{"c":"CG","g":"pold2-1","u":5.75,"m":0.279},{"c":"CG","g":"pold2-1","u":6,"m":0.276},{"c":"CG","g":"pold2-1","u":6.25,"m":0.273},{"c":"CG","g":"pold2-1","u":6.5,"m":0.268},{"c":"CG","g":"pold2-1","u":6.75,"m":0.259},{"c":"CG","g":"pold2-1","u":7,"m":0.242},{"c":"CG","g":"pold2-1","u":7.25,"m":0.224},{"c":"CG","g":"pold2-1","u":7.5,"m":0.199},{"c":"CG","g":"pold2-1","u":7.75,"m":0.176},{"c":"CG","g":"pold2-1","u":8,"m":0.153},{"c":"CG","g":"pold2-1","u":8.1,"m":0.143},{"c":"CG","g":"pold2-1","u":8.25,"m":0.11},{"c":"CG","g":"pold2-1","u":8.4,"m":0.124},{"c":"CG","g":"pold2-1","u":8.5,"m":0.138},{"c":"CG","g":"pold2-1","u":8.75,"m":0.155},{"c":"CG","g":"pold2-1","u":9,"m":0.16},{"c":"CG","g":"pold2-1","u":9.25,"m":0.161},{"c":"CG","g":"pold2-1","u":9.5,"m":0.162},{"c":"CG","g":"pold2-1","u":9.75,"m":0.163},{"c":"CG","g":"pold2-1","u":10,"m":0.164},
{"c":"CHG","g":"pold2-1","u":0,"m":0.056},{"c":"CHG","g":"pold2-1","u":0.25,"m":0.057},{"c":"CHG","g":"pold2-1","u":0.5,"m":0.059},{"c":"CHG","g":"pold2-1","u":0.75,"m":0.061},{"c":"CHG","g":"pold2-1","u":1,"m":0.062},{"c":"CHG","g":"pold2-1","u":1.25,"m":0.064},{"c":"CHG","g":"pold2-1","u":1.5,"m":0.067},{"c":"CHG","g":"pold2-1","u":1.75,"m":0.073},{"c":"CHG","g":"pold2-1","u":1.9,"m":0.068},{"c":"CHG","g":"pold2-1","u":2,"m":0.063},{"c":"CHG","g":"pold2-1","u":2.25,"m":0.056},{"c":"CHG","g":"pold2-1","u":2.5,"m":0.05},{"c":"CHG","g":"pold2-1","u":2.75,"m":0.046},{"c":"CHG","g":"pold2-1","u":3,"m":0.052},{"c":"CHG","g":"pold2-1","u":3.5,"m":0.052},{"c":"CHG","g":"pold2-1","u":4,"m":0.052},{"c":"CHG","g":"pold2-1","u":4.5,"m":0.051},{"c":"CHG","g":"pold2-1","u":5,"m":0.051},{"c":"CHG","g":"pold2-1","u":5.5,"m":0.05},{"c":"CHG","g":"pold2-1","u":6,"m":0.05},{"c":"CHG","g":"pold2-1","u":6.5,"m":0.049},{"c":"CHG","g":"pold2-1","u":7,"m":0.049},{"c":"CHG","g":"pold2-1","u":7.5,"m":0.052},{"c":"CHG","g":"pold2-1","u":7.75,"m":0.055},{"c":"CHG","g":"pold2-1","u":8,"m":0.068},{"c":"CHG","g":"pold2-1","u":8.1,"m":0.077},{"c":"CHG","g":"pold2-1","u":8.25,"m":0.061},{"c":"CHG","g":"pold2-1","u":8.4,"m":0.055},{"c":"CHG","g":"pold2-1","u":8.75,"m":0.054},{"c":"CHG","g":"pold2-1","u":9.25,"m":0.053},{"c":"CHG","g":"pold2-1","u":9.75,"m":0.052},{"c":"CHG","g":"pold2-1","u":10,"m":0.052},
{"c":"CHH","g":"pold2-1","u":0,"m":0.018},{"c":"CHH","g":"pold2-1","u":0.5,"m":0.019},{"c":"CHH","g":"pold2-1","u":1,"m":0.02},{"c":"CHH","g":"pold2-1","u":1.5,"m":0.022},{"c":"CHH","g":"pold2-1","u":1.75,"m":0.023},{"c":"CHH","g":"pold2-1","u":2,"m":0.021},{"c":"CHH","g":"pold2-1","u":2.25,"m":0.017},{"c":"CHH","g":"pold2-1","u":2.5,"m":0.016},{"c":"CHH","g":"pold2-1","u":3,"m":0.015},{"c":"CHH","g":"pold2-1","u":4,"m":0.015},{"c":"CHH","g":"pold2-1","u":5,"m":0.015},{"c":"CHH","g":"pold2-1","u":6,"m":0.015},{"c":"CHH","g":"pold2-1","u":7,"m":0.015},{"c":"CHH","g":"pold2-1","u":7.5,"m":0.016},{"c":"CHH","g":"pold2-1","u":8,"m":0.017},{"c":"CHH","g":"pold2-1","u":8.1,"m":0.018},{"c":"CHH","g":"pold2-1","u":8.5,"m":0.018},{"c":"CHH","g":"pold2-1","u":9,"m":0.017},{"c":"CHH","g":"pold2-1","u":10,"m":0.017}
  ],
  "dte": [
{"c":"CG","g":"WT","u":0,"m":0.31},{"c":"CG","g":"WT","u":0.5,"m":0.313},{"c":"CG","g":"WT","u":1,"m":0.318},{"c":"CG","g":"WT","u":1.5,"m":0.327},{"c":"CG","g":"WT","u":1.9,"m":0.342},{"c":"CG","g":"WT","u":2.07,"m":0.352},{"c":"CG","g":"WT","u":2.12,"m":0.375},{"c":"CG","g":"WT","u":2.17,"m":0.49},{"c":"CG","g":"WT","u":2.23,"m":0.67},{"c":"CG","g":"WT","u":2.28,"m":0.69},{"c":"CG","g":"WT","u":2.34,"m":0.665},{"c":"CG","g":"WT","u":2.45,"m":0.655},{"c":"CG","g":"WT","u":2.66,"m":0.662},{"c":"CG","g":"WT","u":3,"m":0.658},{"c":"CG","g":"WT","u":3.25,"m":0.665},{"c":"CG","g":"WT","u":3.5,"m":0.66},{"c":"CG","g":"WT","u":3.75,"m":0.665},{"c":"CG","g":"WT","u":4,"m":0.67},{"c":"CG","g":"WT","u":4.25,"m":0.662},{"c":"CG","g":"WT","u":4.5,"m":0.668},{"c":"CG","g":"WT","u":4.75,"m":0.672},{"c":"CG","g":"WT","u":5,"m":0.668},{"c":"CG","g":"WT","u":5.25,"m":0.675},{"c":"CG","g":"WT","u":5.5,"m":0.672},{"c":"CG","g":"WT","u":5.75,"m":0.676},{"c":"CG","g":"WT","u":6,"m":0.678},{"c":"CG","g":"WT","u":6.25,"m":0.673},{"c":"CG","g":"WT","u":6.5,"m":0.67},{"c":"CG","g":"WT","u":6.75,"m":0.668},{"c":"CG","g":"WT","u":7,"m":0.672},{"c":"CG","g":"WT","u":7.25,"m":0.665},{"c":"CG","g":"WT","u":7.5,"m":0.66},{"c":"CG","g":"WT","u":7.75,"m":0.672},{"c":"CG","g":"WT","u":7.95,"m":0.69},{"c":"CG","g":"WT","u":8.04,"m":0.71},{"c":"CG","g":"WT","u":8.1,"m":0.585},{"c":"CG","g":"WT","u":8.15,"m":0.365},{"c":"CG","g":"WT","u":8.21,"m":0.335},{"c":"CG","g":"WT","u":8.42,"m":0.327},{"c":"CG","g":"WT","u":8.75,"m":0.318},{"c":"CG","g":"WT","u":9,"m":0.314},{"c":"CG","g":"WT","u":9.29,"m":0.311},{"c":"CG","g":"WT","u":9.6,"m":0.308},{"c":"CG","g":"WT","u":10,"m":0.305},
{"c":"CHG","g":"WT","u":0,"m":0.141},{"c":"CHG","g":"WT","u":0.5,"m":0.146},{"c":"CHG","g":"WT","u":1,"m":0.153},{"c":"CHG","g":"WT","u":1.5,"m":0.166},{"c":"CHG","g":"WT","u":1.9,"m":0.18},{"c":"CHG","g":"WT","u":2.07,"m":0.188},{"c":"CHG","g":"WT","u":2.12,"m":0.24},{"c":"CHG","g":"WT","u":2.17,"m":0.385},{"c":"CHG","g":"WT","u":2.23,"m":0.4},{"c":"CHG","g":"WT","u":2.34,"m":0.385},{"c":"CHG","g":"WT","u":2.45,"m":0.39},{"c":"CHG","g":"WT","u":2.66,"m":0.398},{"c":"CHG","g":"WT","u":3,"m":0.402},{"c":"CHG","g":"WT","u":3.25,"m":0.41},{"c":"CHG","g":"WT","u":3.5,"m":0.405},{"c":"CHG","g":"WT","u":3.75,"m":0.402},{"c":"CHG","g":"WT","u":4,"m":0.405},{"c":"CHG","g":"WT","u":4.5,"m":0.402},{"c":"CHG","g":"WT","u":5,"m":0.405},{"c":"CHG","g":"WT","u":5.5,"m":0.408},{"c":"CHG","g":"WT","u":6,"m":0.404},{"c":"CHG","g":"WT","u":6.5,"m":0.412},{"c":"CHG","g":"WT","u":7,"m":0.41},{"c":"CHG","g":"WT","u":7.5,"m":0.405},{"c":"CHG","g":"WT","u":7.77,"m":0.395},{"c":"CHG","g":"WT","u":8.04,"m":0.385},{"c":"CHG","g":"WT","u":8.1,"m":0.3},{"c":"CHG","g":"WT","u":8.15,"m":0.2},{"c":"CHG","g":"WT","u":8.21,"m":0.19},{"c":"CHG","g":"WT","u":8.42,"m":0.178},{"c":"CHG","g":"WT","u":8.75,"m":0.162},{"c":"CHG","g":"WT","u":9,"m":0.153},{"c":"CHG","g":"WT","u":9.29,"m":0.145},{"c":"CHG","g":"WT","u":9.6,"m":0.139},{"c":"CHG","g":"WT","u":10,"m":0.135},
{"c":"CHH","g":"WT","u":0,"m":0.041},{"c":"CHH","g":"WT","u":0.5,"m":0.042},{"c":"CHH","g":"WT","u":1,"m":0.044},{"c":"CHH","g":"WT","u":1.5,"m":0.047},{"c":"CHH","g":"WT","u":2.07,"m":0.054},{"c":"CHH","g":"WT","u":2.17,"m":0.092},{"c":"CHH","g":"WT","u":2.23,"m":0.104},{"c":"CHH","g":"WT","u":2.5,"m":0.103},{"c":"CHH","g":"WT","u":3,"m":0.103},{"c":"CHH","g":"WT","u":4,"m":0.104},{"c":"CHH","g":"WT","u":5,"m":0.104},{"c":"CHH","g":"WT","u":6,"m":0.103},{"c":"CHH","g":"WT","u":7,"m":0.104},{"c":"CHH","g":"WT","u":8,"m":0.105},{"c":"CHH","g":"WT","u":8.1,"m":0.085},{"c":"CHH","g":"WT","u":8.15,"m":0.057},{"c":"CHH","g":"WT","u":8.4,"m":0.05},{"c":"CHH","g":"WT","u":9,"m":0.045},{"c":"CHH","g":"WT","u":10,"m":0.04},
{"c":"CG","g":"pold2-1","u":0,"m":0.315},{"c":"CG","g":"pold2-1","u":0.5,"m":0.317},{"c":"CG","g":"pold2-1","u":1,"m":0.322},{"c":"CG","g":"pold2-1","u":1.5,"m":0.33},{"c":"CG","g":"pold2-1","u":1.9,"m":0.345},{"c":"CG","g":"pold2-1","u":2.07,"m":0.355},{"c":"CG","g":"pold2-1","u":2.12,"m":0.38},{"c":"CG","g":"pold2-1","u":2.17,"m":0.5},{"c":"CG","g":"pold2-1","u":2.23,"m":0.68},{"c":"CG","g":"pold2-1","u":2.28,"m":0.7},{"c":"CG","g":"pold2-1","u":2.34,"m":0.66},{"c":"CG","g":"pold2-1","u":2.45,"m":0.645},{"c":"CG","g":"pold2-1","u":2.66,"m":0.65},{"c":"CG","g":"pold2-1","u":3,"m":0.645},{"c":"CG","g":"pold2-1","u":3.25,"m":0.655},{"c":"CG","g":"pold2-1","u":3.5,"m":0.65},{"c":"CG","g":"pold2-1","u":3.75,"m":0.648},{"c":"CG","g":"pold2-1","u":4,"m":0.653},{"c":"CG","g":"pold2-1","u":4.25,"m":0.65},{"c":"CG","g":"pold2-1","u":4.5,"m":0.655},{"c":"CG","g":"pold2-1","u":4.75,"m":0.66},{"c":"CG","g":"pold2-1","u":5,"m":0.658},{"c":"CG","g":"pold2-1","u":5.25,"m":0.662},{"c":"CG","g":"pold2-1","u":5.5,"m":0.665},{"c":"CG","g":"pold2-1","u":5.75,"m":0.662},{"c":"CG","g":"pold2-1","u":6,"m":0.667},{"c":"CG","g":"pold2-1","u":6.25,"m":0.665},{"c":"CG","g":"pold2-1","u":6.5,"m":0.661},{"c":"CG","g":"pold2-1","u":6.75,"m":0.655},{"c":"CG","g":"pold2-1","u":7,"m":0.66},{"c":"CG","g":"pold2-1","u":7.25,"m":0.648},{"c":"CG","g":"pold2-1","u":7.5,"m":0.643},{"c":"CG","g":"pold2-1","u":7.75,"m":0.66},{"c":"CG","g":"pold2-1","u":7.95,"m":0.685},{"c":"CG","g":"pold2-1","u":8.04,"m":0.712},{"c":"CG","g":"pold2-1","u":8.1,"m":0.59},{"c":"CG","g":"pold2-1","u":8.15,"m":0.37},{"c":"CG","g":"pold2-1","u":8.21,"m":0.338},{"c":"CG","g":"pold2-1","u":8.42,"m":0.33},{"c":"CG","g":"pold2-1","u":8.75,"m":0.322},{"c":"CG","g":"pold2-1","u":9,"m":0.318},{"c":"CG","g":"pold2-1","u":9.29,"m":0.315},{"c":"CG","g":"pold2-1","u":9.6,"m":0.312},{"c":"CG","g":"pold2-1","u":10,"m":0.308},
{"c":"CHG","g":"pold2-1","u":0,"m":0.159},{"c":"CHG","g":"pold2-1","u":0.5,"m":0.163},{"c":"CHG","g":"pold2-1","u":1,"m":0.17},{"c":"CHG","g":"pold2-1","u":1.5,"m":0.182},{"c":"CHG","g":"pold2-1","u":1.9,"m":0.196},{"c":"CHG","g":"pold2-1","u":2.07,"m":0.205},{"c":"CHG","g":"pold2-1","u":2.12,"m":0.26},{"c":"CHG","g":"pold2-1","u":2.17,"m":0.4},{"c":"CHG","g":"pold2-1","u":2.23,"m":0.42},{"c":"CHG","g":"pold2-1","u":2.34,"m":0.395},{"c":"CHG","g":"pold2-1","u":2.45,"m":0.41},{"c":"CHG","g":"pold2-1","u":2.66,"m":0.425},{"c":"CHG","g":"pold2-1","u":3,"m":0.43},{"c":"CHG","g":"pold2-1","u":3.25,"m":0.44},{"c":"CHG","g":"pold2-1","u":3.5,"m":0.438},{"c":"CHG","g":"pold2-1","u":3.75,"m":0.44},{"c":"CHG","g":"pold2-1","u":4,"m":0.436},{"c":"CHG","g":"pold2-1","u":4.5,"m":0.44},{"c":"CHG","g":"pold2-1","u":5,"m":0.438},{"c":"CHG","g":"pold2-1","u":5.5,"m":0.44},{"c":"CHG","g":"pold2-1","u":6,"m":0.437},{"c":"CHG","g":"pold2-1","u":6.5,"m":0.442},{"c":"CHG","g":"pold2-1","u":7,"m":0.435},{"c":"CHG","g":"pold2-1","u":7.5,"m":0.428},{"c":"CHG","g":"pold2-1","u":7.77,"m":0.422},{"c":"CHG","g":"pold2-1","u":8.04,"m":0.425},{"c":"CHG","g":"pold2-1","u":8.1,"m":0.33},{"c":"CHG","g":"pold2-1","u":8.15,"m":0.215},{"c":"CHG","g":"pold2-1","u":8.21,"m":0.205},{"c":"CHG","g":"pold2-1","u":8.42,"m":0.195},{"c":"CHG","g":"pold2-1","u":8.75,"m":0.182},{"c":"CHG","g":"pold2-1","u":9,"m":0.175},{"c":"CHG","g":"pold2-1","u":9.29,"m":0.168},{"c":"CHG","g":"pold2-1","u":9.6,"m":0.162},{"c":"CHG","g":"pold2-1","u":10,"m":0.158},
{"c":"CHH","g":"pold2-1","u":0,"m":0.042},{"c":"CHH","g":"pold2-1","u":0.5,"m":0.043},{"c":"CHH","g":"pold2-1","u":1,"m":0.045},{"c":"CHH","g":"pold2-1","u":1.5,"m":0.048},{"c":"CHH","g":"pold2-1","u":2.07,"m":0.055},{"c":"CHH","g":"pold2-1","u":2.17,"m":0.088},{"c":"CHH","g":"pold2-1","u":2.23,"m":0.098},{"c":"CHH","g":"pold2-1","u":2.5,"m":0.095},{"c":"CHH","g":"pold2-1","u":3,"m":0.094},{"c":"CHH","g":"pold2-1","u":4,"m":0.094},{"c":"CHH","g":"pold2-1","u":5,"m":0.094},{"c":"CHH","g":"pold2-1","u":6,"m":0.094},{"c":"CHH","g":"pold2-1","u":7,"m":0.094},{"c":"CHH","g":"pold2-1","u":8,"m":0.096},{"c":"CHH","g":"pold2-1","u":8.1,"m":0.08},{"c":"CHH","g":"pold2-1","u":8.15,"m":0.055},{"c":"CHH","g":"pold2-1","u":8.4,"m":0.05},{"c":"CHH","g":"pold2-1","u":9,"m":0.045},{"c":"CHH","g":"pold2-1","u":10,"m":0.041}
  ],
  "dlab": [{"t":"Genes","x":2.0,"y":0.382},{"t":"CG","x":3.71,"y":0.223},{"t":"CHG","x":6.38,"y":0.0864},{"t":"CHH","x":3.37,"y":0.028}],
  "elab": [{"t":"TEs","x":0.815,"y":0.921},{"t":"CG","x":3.37,"y":0.74},{"t":"CHG","x":3.53,"y":0.485},{"t":"CHH","x":3.55,"y":0.16}]
},
"concat": [
 {
  "width": 732, "height": 24,
  "title": {"text": "A", "dx": -52, "offset": -26},
  "layer": [
   {"data": {"values": [{"a": 4380, "b": 9060, "y0": 0, "y1": 1}]},
    "mark": {"type": "rect", "color": "black"},
    "encoding": {
     "x": {"field": "a", "type": "quantitative", "scale": {"domain": [4380, 9060], "range": [52, 732], "nice": false, "zero": false}, "axis": null},
     "x2": {"field": "b"},
     "y": {"field": "y0", "type": "quantitative", "scale": {"domain": [0, 1], "nice": false}, "axis": {"values": [], "domain": false, "ticks": false, "labels": false, "grid": false, "title": null, "minExtent": 63, "maxExtent": 63}},
     "y2": {"field": "y1"}}},
   {"data": {"name": "genes"}, "mark": {"type": "rect", "color": "white"},
    "encoding": {"x": {"field": "s", "type": "quantitative"}, "x2": {"field": "e"}, "y": {"datum": 0.125}, "y2": {"datum": 0.875}}},
   {"data": {"values": [{"g": 5660}]}, "mark": {"type": "rule", "color": "white", "strokeWidth": 2},
    "encoding": {"x": {"field": "g", "type": "quantitative"}, "y": {"datum": 0.045}, "y2": {"datum": 0.955}}},
   {"data": {"name": "genes"}, "mark": {"type": "text", "fontStyle": "italic", "fontSize": 15, "baseline": "alphabetic", "dy": -5},
    "encoding": {"x": {"field": "m", "type": "quantitative"}, "y": {"datum": 1}, "text": {"field": "g"}}}
  ]
 },
 {
  "width": 732, "height": 34,
  "layer": [
   {"data": {"values": [{"a": 4380, "b": 6690, "h": 0.824}, {"a": 6925, "b": 9060, "h": 0.824}]},
    "mark": {"type": "rule", "color": "#8c8c8c", "strokeWidth": 2},
    "encoding": {
     "x": {"field": "a", "type": "quantitative", "scale": {"domain": [4380, 9060], "range": [52, 732], "nice": false, "zero": false}, "axis": null},
     "x2": {"field": "b"},
     "y": {"field": "h", "type": "quantitative", "scale": {"domain": [0, 1], "nice": false}, "axis": {"values": [], "domain": false, "ticks": false, "labels": false, "grid": false, "title": null, "minExtent": 63, "maxExtent": 63}}}},
   {"data": {"values": [{"l": "8,026 bp", "p": 6808}]}, "mark": {"type": "text", "fontSize": 6.5, "fontWeight": "bold", "color": "#444444", "baseline": "middle"},
    "encoding": {"x": {"field": "p", "type": "quantitative"}, "y": {"datum": 0.824}, "text": {"field": "l"}}},
   {"data": {"name": "rlab"}, "mark": {"type": "text", "fontSize": 5.5, "fontWeight": "bold", "baseline": "middle"},
    "encoding": {"x": {"field": "p", "type": "quantitative"}, "y": {"datum": 0.44}, "text": {"field": "l"}}},
   {"data": {"name": "rtick"}, "mark": {"type": "rule", "color": "black", "strokeWidth": 1},
    "encoding": {"x": {"field": "p", "type": "quantitative"}, "y": {"datum": 0.176}, "y2": {"datum": 0.294}}},
   {"data": {"values": [{"a": 4380, "b": 9060}]}, "mark": {"type": "rule", "color": "black", "strokeWidth": 1.5},
    "encoding": {"x": {"field": "a", "type": "quantitative"}, "x2": {"field": "b"}, "y": {"datum": 0.176}}},
   {"data": {"values": [{"a": 4380, "b": 9060}]}, "mark": {"type": "rule", "color": "#222222", "strokeWidth": 2},
    "encoding": {"x": {"field": "a", "type": "quantitative"}, "x2": {"field": "b"}, "y": {"datum": 0.03}}},
   {"data": {"name": "dash"}, "mark": {"type": "rule", "color": "black", "strokeWidth": 2, "strokeDash": [4, 2]},
    "encoding": {"x": {"field": "d", "type": "quantitative"}, "y": {"datum": 0.03}, "y2": {"datum": 0.794}}}
  ]
 },
 {
  "width": 732, "height": 31.5,
  "layer": [
   {"data": {"values": [{"a": 4380, "b": 9060, "y0": 0, "y1": 2.4}]}, "mark": {"type": "rect", "color": "#dddddd"},
    "encoding": {"x": {"field": "a", "type": "quantitative", "scale": {"domain": [4380, 9060], "range": [52, 732], "nice": false, "zero": false}, "axis": null}, "x2": {"field": "b"},
     "y": {"field": "y0", "type": "quantitative", "scale": {"domain": [0, 2.4], "nice": false}, "axis": {"values": [], "domain": false, "ticks": false, "labels": false, "grid": false, "title": null, "minExtent": 63, "maxExtent": 63}}, "y2": {"field": "y1"}}},
   {"data": {"values": [{"a": 4380, "b": 9060, "h": 0.04}]}, "mark": {"type": "rule", "color": "#888888", "strokeWidth": 1},
    "encoding": {"x": {"field": "a", "type": "quantitative"}, "x2": {"field": "b"}, "y": {"field": "h", "type": "quantitative"}}},
   {"data": {"name": "tr"}, "transform": [{"filter": {"field": "t", "equal": "CGW"}}], "mark": {"type": "bar", "width": 2.4, "color": "#c41414"},
    "encoding": {"x": {"field": "p", "type": "quantitative"}, "y": {"field": "v", "type": "quantitative"}}},
   {"data": {"name": "dash"}, "mark": {"type": "rule", "color": "black", "strokeWidth": 2, "strokeDash": [4, 2]},
    "encoding": {"x": {"field": "d", "type": "quantitative"}, "y": {"datum": 0.08}, "y2": {"datum": 2.32}}},
   {"data": {"values": [{"s": "CG-WT"}]}, "mark": {"type": "text", "align": "left", "baseline": "middle", "fontSize": 16, "dx": -92},
    "encoding": {"x": {"datum": 4380}, "y": {"datum": 0.62}, "text": {"field": "s"}}}
  ]
 },
 {
  "width": 732, "height": 31.5,
  "layer": [
   {"data": {"values": [{"a": 4380, "b": 9060, "y0": 0, "y1": 2.4}]}, "mark": {"type": "rect", "color": "#dddddd"},
    "encoding": {"x": {"field": "a", "type": "quantitative", "scale": {"domain": [4380, 9060], "range": [52, 732], "nice": false, "zero": false}, "axis": null}, "x2": {"field": "b"},
     "y": {"field": "y0", "type": "quantitative", "scale": {"domain": [0, 2.4], "nice": false}, "axis": {"values": [], "domain": false, "ticks": false, "labels": false, "grid": false, "title": null, "minExtent": 63, "maxExtent": 63}}, "y2": {"field": "y1"}}},
   {"data": {"values": [{"a": 4380, "b": 9060, "h": 0.04}]}, "mark": {"type": "rule", "color": "#888888", "strokeWidth": 1},
    "encoding": {"x": {"field": "a", "type": "quantitative"}, "x2": {"field": "b"}, "y": {"field": "h", "type": "quantitative"}}},
   {"data": {"name": "tr"}, "transform": [{"filter": {"field": "t", "equal": "CGP"}}], "mark": {"type": "bar", "width": 2.4, "color": "#1414c8"},
    "encoding": {"x": {"field": "p", "type": "quantitative"}, "y": {"field": "v", "type": "quantitative"}}},
   {"data": {"name": "dash"}, "mark": {"type": "rule", "color": "black", "strokeWidth": 2, "strokeDash": [4, 2]},
    "encoding": {"x": {"field": "d", "type": "quantitative"}, "y": {"datum": 0.08}, "y2": {"datum": 2.32}}},
   {"data": {"values": [{"s": "CG-"}]}, "mark": {"type": "text", "align": "left", "baseline": "middle", "fontSize": 16, "dx": -96},
    "encoding": {"x": {"datum": 4380}, "y": {"datum": 0.62}, "text": {"field": "s"}}},
   {"data": {"values": [{"s": "pold2-1"}]}, "mark": {"type": "text", "align": "left", "baseline": "middle", "fontSize": 16, "fontStyle": "italic", "dx": -66.7},
    "encoding": {"x": {"datum": 4380}, "y": {"datum": 0.62}, "text": {"field": "s"}}}
  ]
 },
 {
  "width": 732, "height": 31.5,
  "layer": [
   {"data": {"values": [{"a": 4380, "b": 9060, "y0": 0, "y1": 2.4}]}, "mark": {"type": "rect", "color": "#dddddd"},
    "encoding": {"x": {"field": "a", "type": "quantitative", "scale": {"domain": [4380, 9060], "range": [52, 732], "nice": false, "zero": false}, "axis": null}, "x2": {"field": "b"},
     "y": {"field": "y0", "type": "quantitative", "scale": {"domain": [0, 2.4], "nice": false}, "axis": {"values": [], "domain": false, "ticks": false, "labels": false, "grid": false, "title": null, "minExtent": 63, "maxExtent": 63}}, "y2": {"field": "y1"}}},
   {"data": {"values": [{"a": 4380, "b": 9060, "h": 0.04}]}, "mark": {"type": "rule", "color": "#888888", "strokeWidth": 1},
    "encoding": {"x": {"field": "a", "type": "quantitative"}, "x2": {"field": "b"}, "y": {"field": "h", "type": "quantitative"}}},
   {"data": {"name": "tr"}, "transform": [{"filter": {"field": "t", "equal": "CHGW"}}], "mark": {"type": "bar", "width": 2.4, "color": "#c41414"},
    "encoding": {"x": {"field": "p", "type": "quantitative"}, "y": {"field": "v", "type": "quantitative"}}},
   {"data": {"name": "dash"}, "mark": {"type": "rule", "color": "black", "strokeWidth": 2, "strokeDash": [4, 2]},
    "encoding": {"x": {"field": "d", "type": "quantitative"}, "y": {"datum": 0.08}, "y2": {"datum": 2.32}}},
   {"data": {"values": [{"s": "CHG-WT"}]}, "mark": {"type": "text", "align": "left", "baseline": "middle", "fontSize": 16, "dx": -91},
    "encoding": {"x": {"datum": 4380}, "y": {"datum": 0.62}, "text": {"field": "s"}}}
  ]
 },
 {
  "width": 732, "height": 31.5,
  "layer": [
   {"data": {"values": [{"a": 4380, "b": 9060, "y0": 0, "y1": 2.4}]}, "mark": {"type": "rect", "color": "#dddddd"},
    "encoding": {"x": {"field": "a", "type": "quantitative", "scale": {"domain": [4380, 9060], "range": [52, 732], "nice": false, "zero": false}, "axis": null}, "x2": {"field": "b"},
     "y": {"field": "y0", "type": "quantitative", "scale": {"domain": [0, 2.4], "nice": false}, "axis": {"values": [], "domain": false, "ticks": false, "labels": false, "grid": false, "title": null, "minExtent": 63, "maxExtent": 63}}, "y2": {"field": "y1"}}},
   {"data": {"values": [{"a": 4380, "b": 9060, "h": 0.04}]}, "mark": {"type": "rule", "color": "#888888", "strokeWidth": 1},
    "encoding": {"x": {"field": "a", "type": "quantitative"}, "x2": {"field": "b"}, "y": {"field": "h", "type": "quantitative"}}},
   {"data": {"name": "tr"}, "transform": [{"filter": {"field": "t", "equal": "CHGP"}}], "mark": {"type": "bar", "width": 2.4, "color": "#1414c8"},
    "encoding": {"x": {"field": "p", "type": "quantitative"}, "y": {"field": "v", "type": "quantitative"}}},
   {"data": {"name": "dash"}, "mark": {"type": "rule", "color": "black", "strokeWidth": 2, "strokeDash": [4, 2]},
    "encoding": {"x": {"field": "d", "type": "quantitative"}, "y": {"datum": 0.08}, "y2": {"datum": 2.32}}},
   {"data": {"values": [{"s": "CHG-"}]}, "mark": {"type": "text", "align": "left", "baseline": "middle", "fontSize": 16, "dx": -96},
    "encoding": {"x": {"datum": 4380}, "y": {"datum": 0.62}, "text": {"field": "s"}}},
   {"data": {"values": [{"s": "pold2-1"}]}, "mark": {"type": "text", "align": "left", "baseline": "middle", "fontSize": 16, "fontStyle": "italic", "dx": -55.1},
    "encoding": {"x": {"datum": 4380}, "y": {"datum": 0.62}, "text": {"field": "s"}}}
  ]
 },
 {
  "width": 732, "height": 31.5,
  "layer": [
   {"data": {"values": [{"a": 4380, "b": 9060, "y0": 0, "y1": 2.4}]}, "mark": {"type": "rect", "color": "#dddddd"},
    "encoding": {"x": {"field": "a", "type": "quantitative", "scale": {"domain": [4380, 9060], "range": [52, 732], "nice": false, "zero": false}, "axis": null}, "x2": {"field": "b"},
     "y": {"field": "y0", "type": "quantitative", "scale": {"domain": [0, 2.4], "nice": false}, "axis": {"values": [], "domain": false, "ticks": false, "labels": false, "grid": false, "title": null, "minExtent": 63, "maxExtent": 63}}, "y2": {"field": "y1"}}},
   {"data": {"values": [{"a": 4380, "b": 9060, "h": 0.04}]}, "mark": {"type": "rule", "color": "#888888", "strokeWidth": 1},
    "encoding": {"x": {"field": "a", "type": "quantitative"}, "x2": {"field": "b"}, "y": {"field": "h", "type": "quantitative"}}},
   {"data": {"name": "tr"}, "transform": [{"filter": {"field": "t", "equal": "CHHW"}}], "mark": {"type": "bar", "width": 2.4, "color": "#c41414"},
    "encoding": {"x": {"field": "p", "type": "quantitative"}, "y": {"field": "v", "type": "quantitative"}}},
   {"data": {"name": "dash"}, "mark": {"type": "rule", "color": "black", "strokeWidth": 2, "strokeDash": [4, 2]},
    "encoding": {"x": {"field": "d", "type": "quantitative"}, "y": {"datum": 0.08}, "y2": {"datum": 2.32}}},
   {"data": {"values": [{"s": "CHH-WT"}]}, "mark": {"type": "text", "align": "left", "baseline": "middle", "fontSize": 16, "dx": -91},
    "encoding": {"x": {"datum": 4380}, "y": {"datum": 0.62}, "text": {"field": "s"}}}
  ]
 },
 {
  "width": 732, "height": 31.5,
  "layer": [
   {"data": {"values": [{"a": 4380, "b": 9060, "y0": 0, "y1": 2.4}]}, "mark": {"type": "rect", "color": "#dddddd"},
    "encoding": {"x": {"field": "a", "type": "quantitative", "scale": {"domain": [4380, 9060], "range": [52, 732], "nice": false, "zero": false}, "axis": null}, "x2": {"field": "b"},
     "y": {"field": "y0", "type": "quantitative", "scale": {"domain": [0, 2.4], "nice": false}, "axis": {"values": [], "domain": false, "ticks": false, "labels": false, "grid": false, "title": null, "minExtent": 63, "maxExtent": 63}}, "y2": {"field": "y1"}}},
   {"data": {"values": [{"a": 4380, "b": 9060, "h": 0.04}]}, "mark": {"type": "rule", "color": "#888888", "strokeWidth": 1},
    "encoding": {"x": {"field": "a", "type": "quantitative"}, "x2": {"field": "b"}, "y": {"field": "h", "type": "quantitative"}}},
   {"data": {"name": "tr"}, "transform": [{"filter": {"field": "t", "equal": "CHHP"}}], "mark": {"type": "bar", "width": 2.4, "color": "#1414c8"},
    "encoding": {"x": {"field": "p", "type": "quantitative"}, "y": {"field": "v", "type": "quantitative"}}},
   {"data": {"name": "dash"}, "mark": {"type": "rule", "color": "black", "strokeWidth": 2, "strokeDash": [4, 2]},
    "encoding": {"x": {"field": "d", "type": "quantitative"}, "y": {"datum": 0.08}, "y2": {"datum": 2.32}}},
   {"data": {"values": [{"s": "CHH-"}]}, "mark": {"type": "text", "align": "left", "baseline": "middle", "fontSize": 16, "dx": -96},
    "encoding": {"x": {"datum": 4380}, "y": {"datum": 0.62}, "text": {"field": "s"}}},
   {"data": {"values": [{"s": "pold2-1"}]}, "mark": {"type": "text", "align": "left", "baseline": "middle", "fontSize": 16, "fontStyle": "italic", "dx": -56},
    "encoding": {"x": {"datum": 4380}, "y": {"datum": 0.62}, "text": {"field": "s"}}}
  ]
 },
 {
  "width": 732, "height": 19,
  "layer": [
   {"data": {"values": [{"a": 4380, "b": 9060, "y0": 0, "y1": 1}]}, "mark": {"type": "rect", "color": "#dddddd"},
    "encoding": {"x": {"field": "a", "type": "quantitative", "scale": {"domain": [4380, 9060], "range": [52, 732], "nice": false, "zero": false}, "axis": {"values": [], "domain": false, "ticks": false, "labels": false, "grid": false, "title": null, "minExtent": 7.9, "maxExtent": 7.9}}, "x2": {"field": "b"},
     "y": {"field": "y0", "type": "quantitative", "scale": {"domain": [0, 1], "nice": false}, "axis": {"values": [], "domain": false, "ticks": false, "labels": false, "grid": false, "title": null, "minExtent": 63, "maxExtent": 63}}, "y2": {"field": "y1"}}},
   {"data": {"name": "dash"}, "mark": {"type": "rule", "color": "black", "strokeWidth": 2, "strokeDash": [4, 2]},
    "encoding": {"x": {"field": "d", "type": "quantitative"}, "y": {"datum": 0.06}, "y2": {"datum": 0.94}}}
  ]
 },
 {
  "hconcat": [
   {
    "width": 317, "height": 229,
    "title": {"text": "B", "dx": -61, "offset": -3.7},
    "view": {"stroke": "black", "strokeWidth": 1.5},
    "data": {"name": "b35s"},
    "mark": {"type": "bar", "stroke": "black", "strokeWidth": 1.5},
    "encoding": {
     "x": {"field": "grp", "type": "nominal", "sort": ["WT", "dms3-4", "pold2-1 dms3-4", "pold2-1"], "scale": {"paddingInner": 0.29, "paddingOuter": 0.66},
      "axis": {"title": null, "labelAngle": 0, "labelFontSize": 17, "labelPadding": 2, "tickSize": 5, "tickWidth": 1.5, "domainWidth": 2, "labelLineHeight": 15, "labelExpr": "split(datum.label, ' ')",
       "labelFontStyle": {"condition": {"test": "datum.value === 'WT'", "value": "normal"}, "value": "italic"},
       "labelOffset": {"condition": [{"test": "datum.value === 'WT'", "value": 7}, {"test": "datum.value === 'dms3-4'", "value": 11}, {"test": "datum.value === 'pold2-1'", "value": 24}], "value": 10},
       "minExtent": 50, "maxExtent": 50}},
     "xOffset": {"field": "ctx", "type": "nominal", "sort": ["CG", "CHG", "CHH"], "scale": {"paddingInner": 0.19}},
     "y": {"field": "val", "type": "quantitative", "scale": {"domain": [0, 1], "nice": false},
      "axis": {"title": "Methylation level of 35S", "titleFontSize": 17, "titleX": -53, "titleY": 121, "titleAngle": 270, "titleAlign": "center", "titleBaseline": "middle",
       "values": [0, 0.2, 0.4, 0.6, 0.8, 1], "format": ".1f", "labelFontSize": 17, "tickSize": 5, "tickWidth": 1.5, "domainWidth": 2, "labelPadding": 3, "minExtent": 63, "maxExtent": 63}},
     "fill": {"field": "ctx", "type": "nominal", "sort": ["CG", "CHG", "CHH"], "scale": {"domain": ["CG", "CHG", "CHH"], "range": ["#000000", "#5f5f5f", "#c8c8c8"]},
      "legend": {"title": null, "orient": "none", "legendX": 254, "legendY": 4, "symbolType": "square", "symbolSize": 170, "symbolStrokeColor": "black", "symbolStrokeWidth": 1.5, "symbolOpacity": 1, "labelFontSize": 18, "labelOffset": 3, "rowPadding": -3, "padding": 0}}
    }
   },
   {
    "width": 310, "height": 227,
    "title": {"text": "C", "dx": -74, "offset": -5.5},
    "view": {"stroke": "black", "strokeWidth": 1.5},
    "data": {"name": "bnos"},
    "mark": {"type": "bar", "stroke": "black", "strokeWidth": 1.5},
    "encoding": {
     "x": {"field": "grp", "type": "nominal", "sort": ["WT", "dms3-4", "pold2-1 dms3-4", "pold2-1"], "scale": {"paddingInner": 0.31, "paddingOuter": 0.33},
      "axis": {"title": null, "labelAngle": 0, "labelFontSize": 17, "labelPadding": 2, "tickSize": 5, "tickWidth": 1.5, "domainWidth": 2, "labelLineHeight": 15, "labelExpr": "split(datum.label, ' ')",
       "labelFontStyle": {"condition": {"test": "datum.value === 'WT'", "value": "normal"}, "value": "italic"},
       "labelOffset": {"condition": [{"test": "datum.value === 'WT'", "value": 0}, {"test": "datum.value === 'dms3-4'", "value": 2}, {"test": "datum.value === 'pold2-1'", "value": 9}], "value": 12},
       "minExtent": 45, "maxExtent": 45}},
     "xOffset": {"field": "ctx", "type": "nominal", "sort": ["CG", "CHG", "CHH"], "scale": {"paddingInner": 0.2}},
     "y": {"field": "val", "type": "quantitative", "scale": {"domain": [0, 0.5], "nice": false},
      "axis": {"title": "Methylation level of NOS", "titleFontSize": 17, "titleX": -47, "titleY": 120, "titleAngle": 270, "titleAlign": "center", "titleBaseline": "middle",
       "values": [0, 0.1, 0.2, 0.3, 0.4, 0.5], "labelExpr": "datum.value == 0 ? '0' : format(datum.value, '.1f')", "labelFontSize": 16, "tickSize": 5, "tickWidth": 1.5, "domainWidth": 2, "labelPadding": 3, "minExtent": 78, "maxExtent": 78}},
     "fill": {"field": "ctx", "type": "nominal", "sort": ["CG", "CHG", "CHH"], "scale": {"domain": ["CG", "CHG", "CHH"], "range": ["#000000", "#3c3c3c", "#c8c8c8"]},
      "legend": {"title": null, "orient": "none", "legendX": 14, "legendY": 8, "symbolType": "square", "symbolSize": 196, "symbolStrokeColor": "black", "symbolStrokeWidth": 1.5, "symbolOpacity": 1, "labelFontSize": 18, "labelOffset": 3, "rowPadding": -3, "padding": 0}}
    }
   }
  ],
  "spacing": 20,
  "resolve": {"scale": {"fill": "independent", "x": "independent", "y": "independent", "xOffset": "independent"}, "legend": {"fill": "independent"}}
 },
 {
  "hconcat": [
   {
    "width": 305, "height": 217,
    "title": {"text": "D", "dx": -61, "offset": -12.4},
    "layer": [
     {"data": {"name": "dgen"}, "mark": {"type": "line", "strokeWidth": 2.5},
      "encoding": {
       "x": {"field": "u", "type": "quantitative", "scale": {"domain": [0, 10], "range": [10, 305], "nice": false},
        "axis": {"title": null, "values": [0,1,2,3,4,5,6,7,8,9,10], "labelExpr": "datum.value == 2 ? 'TSS' : datum.value == 8 ? 'TTS' : ''", "labelOffset": 8, "labelFontSize": 16, "tickSize": 5, "domainWidth": 1.5, "labelPadding": 0, "labelFlush": false, "labelOverlap": false}},
       "y": {"field": "m", "type": "quantitative", "scale": {"domain": [0, 0.41], "nice": false},
        "axis": {"title": "Methylation level", "titleFontSize": 20, "titleX": -43, "titleY": 126, "titleAngle": 270, "titleAlign": "center", "titleBaseline": "middle", "offset": -10,
         "values": [0, 0.1, 0.2, 0.3, 0.4], "format": ".1f", "labelFontSize": 14, "tickSize": 6, "domainWidth": 1.5, "labelPadding": 3, "minExtent": 73, "maxExtent": 73}},
       "color": {"field": "g", "type": "nominal", "scale": {"domain": ["WT", "pold2-1"], "range": ["#707070", "#000000"]}, "legend": null},
       "strokeDash": {"field": "g", "type": "nominal", "scale": {"domain": ["WT", "pold2-1"], "range": [[6, 3], [1, 0]]}, "legend": null},
       "detail": {"field": "c"}
      }},
     {"data": {"values": [{"a": 0, "b": 10, "y": 0.41}]}, "mark": {"type": "rule", "color": "black", "strokeWidth": 1},
      "encoding": {"x": {"field": "a", "type": "quantitative"}, "x2": {"field": "b"}, "y": {"field": "y", "type": "quantitative"}}},
     {"data": {"values": [{"x": 10, "y0": 0, "y1": 0.41}]}, "mark": {"type": "rule", "color": "black", "strokeWidth": 1},
      "encoding": {"x": {"field": "x", "type": "quantitative"}, "y": {"field": "y0", "type": "quantitative"}, "y2": {"field": "y1"}}},
     {"data": {"name": "dlab"}, "mark": {"type": "text", "fontSize": 17, "baseline": "middle"},
      "encoding": {"x": {"field": "x", "type": "quantitative"}, "y": {"field": "y", "type": "quantitative"}, "text": {"field": "t"}}},
     {"data": {"values": [{"a": 6.41, "b": 7.27, "y": 0.371}]}, "mark": {"type": "rule", "color": "#707070", "strokeWidth": 2.5, "strokeDash": [6, 3]},
      "encoding": {"x": {"field": "a", "type": "quantitative"}, "x2": {"field": "b"}, "y": {"field": "y", "type": "quantitative"}}},
     {"data": {"values": [{"a": 6.41, "b": 7.27, "y": 0.354}]}, "mark": {"type": "rule", "color": "black", "strokeWidth": 2.5},
      "encoding": {"x": {"field": "a", "type": "quantitative"}, "x2": {"field": "b"}, "y": {"field": "y", "type": "quantitative"}}},
     {"data": {"values": [{"t": "WT", "x": 7.37, "y": 0.378}]}, "mark": {"type": "text", "align": "left", "baseline": "middle", "fontSize": 15},
      "encoding": {"x": {"field": "x", "type": "quantitative"}, "y": {"field": "y", "type": "quantitative"}, "text": {"field": "t"}}},
     {"data": {"values": [{"t": "pold2-1", "x": 7.37, "y": 0.356}]}, "mark": {"type": "text", "align": "left", "baseline": "middle", "fontSize": 15, "fontStyle": "italic"},
      "encoding": {"x": {"field": "x", "type": "quantitative"}, "y": {"field": "y", "type": "quantitative"}, "text": {"field": "t"}}}
    ]
   },
   {
    "width": 306, "height": 220,
    "title": {"text": "E", "dx": -64, "offset": -17},
    "view": {"stroke": "black", "strokeWidth": 1},
    "layer": [
     {"data": {"name": "dte"}, "mark": {"type": "line", "strokeWidth": 2.5},
      "encoding": {
       "x": {"field": "u", "type": "quantitative", "scale": {"domain": [0, 10], "nice": false},
        "axis": {"title": null, "values": [0,1,2,3,4,5,6,7,8,9,10], "labelExpr": "datum.value == 2 ? 'TSS' : datum.value == 8 ? 'TTS' : ''", "labelOffset": 9, "labelFontSize": 16, "tickSize": 5, "domainWidth": 1.5, "labelPadding": 0, "labelFlush": false, "labelOverlap": false}},
       "y": {"field": "m", "type": "quantitative", "scale": {"domain": [0, 1], "nice": false},
        "axis": {"title": "Methylation level", "titleFontSize": 20, "titleX": -43.5, "titleY": 127, "titleAngle": 270, "titleAlign": "center", "titleBaseline": "middle",
         "values": [0, 0.2, 0.4, 0.6, 0.8, 1], "format": ".1f", "labelFontSize": 15, "tickSize": 5, "domainWidth": 1.5, "labelPadding": 2, "minExtent": 93.5, "maxExtent": 93.5}},
       "color": {"field": "g", "type": "nominal", "scale": {"domain": ["WT", "pold2-1"], "range": ["#707070", "#000000"]}, "legend": null},
       "strokeDash": {"field": "g", "type": "nominal", "scale": {"domain": ["WT", "pold2-1"], "range": [[6, 3], [1, 0]]}, "legend": null},
       "detail": {"field": "c"}
      }},
     {"data": {"name": "elab"}, "mark": {"type": "text", "fontSize": 16, "baseline": "middle"},
      "encoding": {"x": {"field": "x", "type": "quantitative"}, "y": {"field": "y", "type": "quantitative"}, "text": {"field": "t"}}},
     {"data": {"values": [{"a": 7.16, "b": 7.79, "y": 0.909}]}, "mark": {"type": "rule", "color": "#707070", "strokeWidth": 2.5, "strokeDash": [6, 3]},
      "encoding": {"x": {"field": "a", "type": "quantitative"}, "x2": {"field": "b"}, "y": {"field": "y", "type": "quantitative"}}},
     {"data": {"values": [{"a": 7.16, "b": 7.79, "y": 0.869}]}, "mark": {"type": "rule", "color": "black", "strokeWidth": 2.5},
      "encoding": {"x": {"field": "a", "type": "quantitative"}, "x2": {"field": "b"}, "y": {"field": "y", "type": "quantitative"}}},
     {"data": {"values": [{"t": "WT", "x": 7.82, "y": 0.926}]}, "mark": {"type": "text", "align": "left", "baseline": "middle", "fontSize": 15},
      "encoding": {"x": {"field": "x", "type": "quantitative"}, "y": {"field": "y", "type": "quantitative"}, "text": {"field": "t"}}},
     {"data": {"values": [{"t": "pold2-1", "x": 7.82, "y": 0.871}]}, "mark": {"type": "text", "align": "left", "baseline": "middle", "fontSize": 15, "fontStyle": "italic"},
      "encoding": {"x": {"field": "x", "type": "quantitative"}, "y": {"field": "y", "type": "quantitative"}, "text": {"field": "t"}}}
    ]
   }
  ],
  "spacing": 20,
  "resolve": {"scale": {"color": "independent", "strokeDash": "independent", "x": "independent", "y": "independent"}}
 }
]
}
